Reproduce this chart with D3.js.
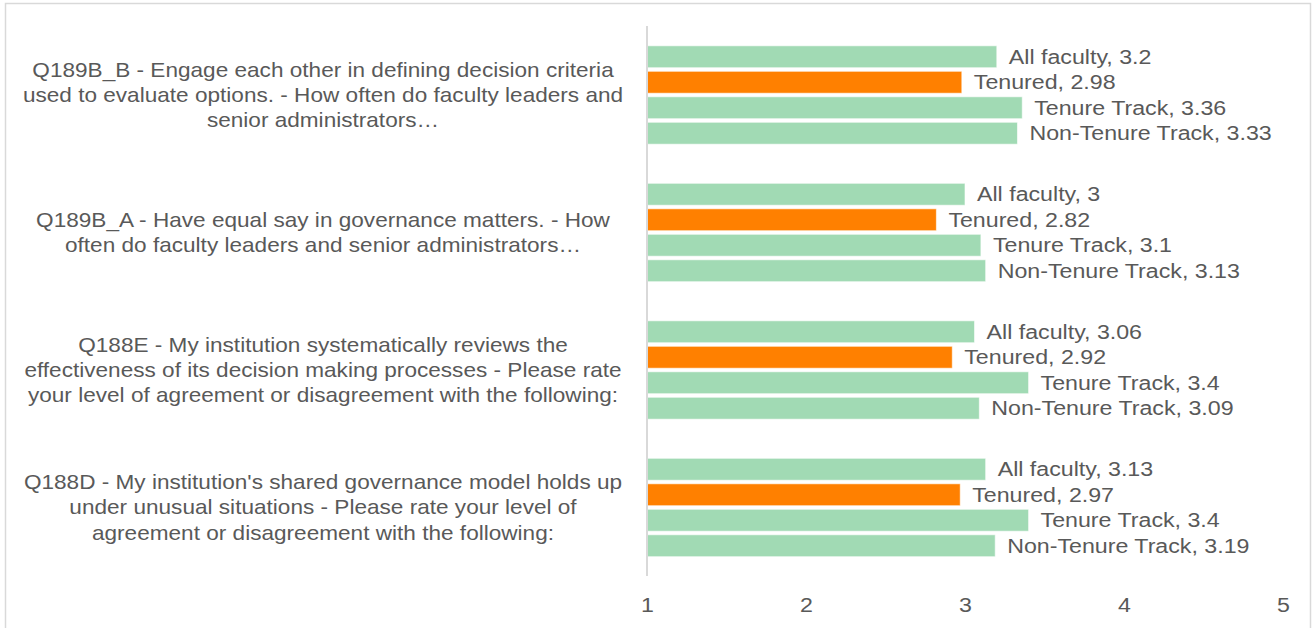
<!DOCTYPE html>
<html>
<head>
<meta charset="utf-8">
<script src="https://cdn.jsdelivr.net/npm/d3@7"></script>
<style>
  body { margin: 0; background: #fff; }
  text { font-family: "Liberation Sans", Arial, sans-serif; fill: #595959; }
</style>
</head>
<body>
<script>
// Questions (top to bottom) and their wrapped labels
var questions = ["Q189B_B", "Q189B_A", "Q188E", "Q188D"];
var questionLines = [
  ["Q189B_B - Engage each other in defining decision criteria",
   "used to evaluate options. - How often do faculty leaders and",
   "senior administrators\u2026"],
  ["Q189B_A - Have equal say in governance matters. - How",
   "often do faculty leaders and senior administrators\u2026"],
  ["Q188E - My institution systematically reviews the",
   "effectiveness of its decision making processes - Please rate",
   "your level of agreement or disagreement with the following:"],
  ["Q188D - My institution's shared governance model holds up",
   "under unusual situations - Please rate your level of",
   "agreement or disagreement with the following:"]
];

// Series, one value per question
var seriesNames = ["All faculty", "Tenured", "Tenure Track", "Non-Tenure Track"];
var allFaculty     = [3.2, 3, 3.06, 3.13];
var tenured        = [2.98, 2.82, 2.92, 2.97];
var tenureTrack    = [3.36, 3.1, 3.4, 3.4];
var nonTenureTrack = [3.33, 3.13, 3.09, 3.19];
var seriesValues = [allFaculty, tenured, tenureTrack, nonTenureTrack];
var seriesColors = ["#a1dab4", "#ff8000", "#a1dab4", "#a1dab4"];

var xTicks = [1, 2, 3, 4, 5];

var width = 1312;
var height = 628;
var stretch = 1.16;  // text in the picture is a bit wider than normal
var qStretch = 1.13; // question labels a touch narrower

var svg = d3.select("body")
            .append("svg")
            .attr("width", width)
            .attr("height", height);

// frame of the chart area (runs off the bottom)
svg.append("rect")
   .attr("x", 5.5).attr("y", 3.5)
   .attr("width", 1305).attr("height", 700)
   .attr("fill", "none")
   .attr("stroke", "#d9d9d9")
   .attr("stroke-width", 1.5);

var x = d3.scaleLinear().domain([1, 5]).range([647, 1283]);
var y0 = d3.scaleBand().domain(questions).range([26, 576]);
var y1 = d3.scaleBand().domain(seriesNames).range([19.8, 118.2]).paddingInner(0.14);

// flatten to one record per bar
var bars = [];
questions.forEach(function(q, i) {
    seriesNames.forEach(function(s, j) {
        bars.push({q: q, s: s, value: seriesValues[j][i], color: seriesColors[j]});
    });
});

svg.selectAll("rect.bar")
   .data(bars)
   .enter()
   .append("rect")
   .attr("class", "bar")
   .attr("x", x(1))
   .attr("y", function(d) { return y0(d.q) + y1(d.s); })
   .attr("width", function(d) { return x(d.value) - x(1); })
   .attr("height", y1.bandwidth())
   .attr("fill", function(d) { return d.color; })
   .attr("stroke", "#ffffff")
   .attr("stroke-opacity", 0.6)
   .attr("stroke-width", 1);

// bar labels: "Series, value"
svg.selectAll("text.barlabel")
   .data(bars)
   .enter()
   .append("text")
   .attr("class", "barlabel")
   .attr("transform", function(d) {
       return "translate(" + (x(d.value) + 12) + "," + (y0(d.q) + y1(d.s) + y1.bandwidth() / 2) + ") scale(" + stretch + ",1)";
   })
   .attr("dy", "0.36em")
   .style("font-size", "20px")
   .text(function(d) { return d.s + ", " + d.value; });

// vertical axis line
svg.append("line")
   .attr("x1", x(1)).attr("x2", x(1))
   .attr("y1", 26).attr("y2", 576)
   .attr("stroke", "#d9d9d9")
   .attr("stroke-width", 2);

// bottom tick labels
var xAxis = d3.axisBottom(x).tickValues(xTicks).tickSize(0).tickPadding(21.5).tickFormat(d3.format("d"));
var gx = svg.append("g").attr("transform", "translate(0,576)").call(xAxis);
gx.select(".domain").remove();
gx.selectAll("text")
  .attr("transform", "scale(" + stretch + ",1)")
  .style("font-size", "20px")
  .style("font-family", "Liberation Sans, Arial, sans-serif")
  .attr("fill", "#595959");

// question labels, centred left of the axis
var qLabels = svg.selectAll("g.qlabel")
   .data(questions)
   .enter()
   .append("g")
   .attr("class", "qlabel")
   .attr("transform", function(d) {
       return "translate(323," + (y0(d) + y0.bandwidth() / 2) + ") scale(" + qStretch + ",1)";
   });

qLabels.each(function(d, i) {
    var lines = questionLines[i];
    var lh = 25.3;
    d3.select(this).selectAll("text")
      .data(lines)
      .enter()
      .append("text")
      .attr("text-anchor", "middle")
      .attr("y", function(l, k) { return (k - (lines.length - 1) / 2) * lh; })
      .attr("dy", "0.36em")
      .style("font-size", "20px")
      .text(function(l) { return l; });
});
</script>
</body>
</html>
